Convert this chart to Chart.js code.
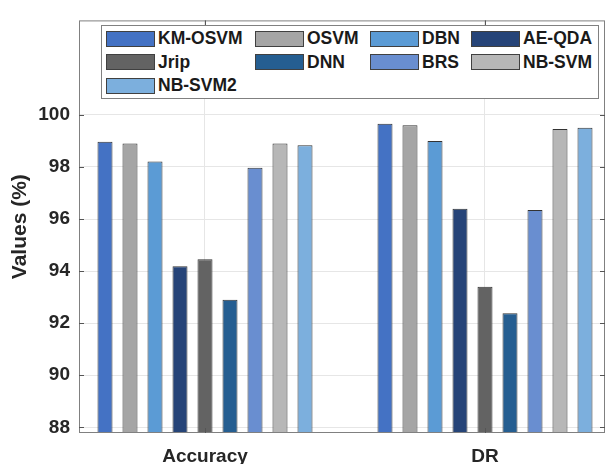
<!DOCTYPE html>
<html>
<head>
<meta charset="utf-8">
<script src="https://cdn.jsdelivr.net/npm/chart.js@4/dist/chart.umd.min.js"></script>
<style>
    body { margin: 0; background: #fff; }
    #wrap { position: relative; width: 606px; height: 464px; }
    #legend {
        position: absolute; left: 101px; top: 25px; width: 496px; height: 72px;
        border: 1px solid #808080; background: #fff;
        font: bold 17.5px "Liberation Sans", Arial, sans-serif; color: #1a1a1a;
    }
    .item { position: absolute; display: flex; align-items: center; height: 20px; white-space: nowrap; }
    .sw { width: 47px; height: 14px; border: 1px solid #404040; margin-right: 3px; }
</style>
</head>
<body>
<div id="wrap">
    <canvas id="chart" width="606" height="464"></canvas>
    <div id="legend"></div>
</div>
<script>
const methods = ["KM-OSVM", "OSVM", "DBN", "AE-QDA", "Jrip", "DNN", "BRS", "NB-SVM", "NB-SVM2"];
const categories = ["Accuracy", "DR"];
const accuracy = [98.97, 98.9, 98.21, 94.19, 94.45, 92.9, 97.97, 98.9, 98.83];
const dr = [99.66, 99.6, 99.0, 96.39, 93.4, 92.38, 96.35, 99.46, 99.51];
const yTicks = [88, 90, 92, 94, 96, 98, 100];

const colors = ["#4472C4", "#A5A5A5", "#5B9BD5", "#264478", "#636363", "#255E91", "#698ED0", "#B7B7B7", "#7CAFDD"];
const fontFamily = '"Liberation Sans", Arial, sans-serif';

/* --- jeu de données : une série par méthode --- */
const series = [accuracy, dr];
const datasets = methods.map((m, i) => ({
    label: m,
    data: categories.map((c, j) => ({ x: j + 1, y: series[j][i] })),
    backgroundColor: colors[i],
    borderColor: "#333",
    borderWidth: 1,
    categoryPercentage: 0.8036,
    barPercentage: 0.6
}));

/* --- cadre et petites graduations vers l'intérieur --- */
const frame = {
    id: "frame",
    afterDatasetsDraw(chart) {
        const { ctx, chartArea: a, scales: { x, y } } = chart;
        const line = (x1, y1, x2, y2) => { ctx.beginPath(); ctx.moveTo(x1, y1); ctx.lineTo(x2, y2); ctx.stroke(); };
        ctx.save();
        ctx.strokeStyle = "#808080";
        ctx.lineWidth = 1;
        ctx.strokeRect(a.left + 0.5, a.top + 0.5, a.right - a.left - 1, a.bottom - a.top - 1);
        ctx.strokeStyle = "#555";
        yTicks.forEach(v => {
            const py = Math.round(y.getPixelForValue(v)) + 0.5;
            line(a.left, py, a.left + 5, py);
            line(a.right - 5, py, a.right, py);
        });
        categories.forEach((c, j) => {
            const px = Math.round(x.getPixelForValue(j + 1)) + 0.5;
            line(px, a.top, px, a.top + 5);
            line(px, a.bottom - 5, px, a.bottom);
        });
        ctx.restore();
    }
};

const chart = new Chart(document.getElementById("chart").getContext("2d"), {
    type: "bar",
    data: { datasets },
    options: {
        responsive: false,
        animation: false,
        layout: { padding: { top: 13, right: 1, left: 0, bottom: 0 } },
        plugins: { legend: { display: false }, tooltip: { enabled: false } },
        scales: {
            x: {
                type: "linear",
                min: 0.55,
                max: 2.4286,
                offset: false,
                afterBuildTicks: s => { s.ticks = categories.map((c, j) => ({ value: j + 1 })); },
                afterFit: s => { s.height = 31; },
                ticks: {
                    callback: v => categories[v - 1] ?? "",
                    font: { family: fontFamily, size: 19, weight: "bold" },
                    color: "#262626",
                    padding: 12,
                    maxRotation: 0,
                    autoSkip: false
                },
                grid: { color: "#e6e6e6", drawTicks: false, offset: false },
                border: { display: false }
            },
            y: {
                min: 87.78,
                max: 103.63,
                afterBuildTicks: s => { s.ticks = yTicks.map(v => ({ value: v })); },
                afterFit: s => { s.width = 79; },
                ticks: {
                    font: { family: fontFamily, size: 19, weight: "bold" },
                    color: "#262626",
                    padding: 9
                },
                title: {
                    display: true,
                    text: "Values (%)",
                    font: { family: fontFamily, size: 21, weight: "bold" },
                    color: "#262626",
                    padding: { top: 8, bottom: 0 }
                },
                grid: { color: "#e6e6e6", drawTicks: false },
                border: { display: false }
            }
        }
    },
    plugins: [frame]
});

/* --- légende HTML en 4 colonnes --- */
const legendEl = document.getElementById("legend");
const colLeft = [4, 153, 268, 369];
const rowTop = [2.5, 26, 49.5];
chart.data.datasets.forEach((d, i) => {
    const item = document.createElement("div");
    item.className = "item";
    item.style.left = colLeft[i % 4] + "px";
    item.style.top = rowTop[Math.floor(i / 4)] + "px";
    item.innerHTML = `<span class="sw" style="background:${d.backgroundColor}"></span><span>${d.label}</span>`;
    legendEl.appendChild(item);
});
</script>
</body>
</html>
